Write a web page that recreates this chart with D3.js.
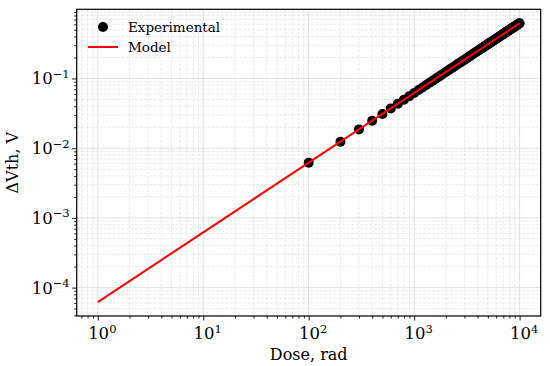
<!DOCTYPE html>
<html>
<head>
<meta charset="utf-8">
<script src="https://cdn.jsdelivr.net/npm/d3@7"></script>
<style>
  body { margin: 0; background: #fff; }
  svg { display: block; font-family: "DejaVu Serif", serif; }
</style>
</head>
<body>
<div id="chart"></div>
<script>
const WIDTH = 550;
const HEIGHT = 366;
const margin = {top: 9.3, right: 9.3, bottom: 50, left: 76.7};

// experimental points
const doses = [
  100, 200, 300, 400, 500, 600, 700, 800, 900, 1000,
  1100, 1200, 1300, 1400, 1500, 1600, 1700, 1800, 1900, 2000,
  2100, 2200, 2300, 2400, 2500, 2600, 2700, 2800, 2900, 3000,
  3100, 3200, 3300, 3400, 3500, 3600, 3700, 3800, 3900, 4000,
  4100, 4200, 4300, 4400, 4500, 4600, 4700, 4800, 4900, 5000,
  5100, 5200, 5300, 5400, 5500, 5600, 5700, 5800, 5900, 6000,
  6100, 6200, 6300, 6400, 6500, 6600, 6700, 6800, 6900, 7000,
  7100, 7200, 7300, 7400, 7500, 7600, 7700, 7800, 7900, 8000,
  8100, 8200, 8300, 8400, 8500, 8600, 8700, 8800, 8900, 9000,
  9100, 9200, 9300, 9400, 9500, 9600, 9700, 9800, 9900, 10000
];
const dVth = [
  0.0062, 0.0124, 0.0186, 0.0248, 0.0310, 0.0372, 0.0434, 0.0496, 0.0558, 0.0620,
  0.0682, 0.0744, 0.0806, 0.0868, 0.0930, 0.0992, 0.1054, 0.1116, 0.1178, 0.1240,
  0.1302, 0.1364, 0.1426, 0.1488, 0.1550, 0.1612, 0.1674, 0.1736, 0.1798, 0.1860,
  0.1922, 0.1984, 0.2046, 0.2108, 0.2170, 0.2232, 0.2294, 0.2356, 0.2418, 0.2480,
  0.2542, 0.2604, 0.2666, 0.2728, 0.2790, 0.2852, 0.2914, 0.2976, 0.3038, 0.3100,
  0.3162, 0.3224, 0.3286, 0.3348, 0.3410, 0.3472, 0.3534, 0.3596, 0.3658, 0.3720,
  0.3782, 0.3844, 0.3906, 0.3968, 0.4030, 0.4092, 0.4154, 0.4216, 0.4278, 0.4340,
  0.4402, 0.4464, 0.4526, 0.4588, 0.4650, 0.4712, 0.4774, 0.4836, 0.4898, 0.4960,
  0.5022, 0.5084, 0.5146, 0.5208, 0.5270, 0.5332, 0.5394, 0.5456, 0.5518, 0.5580,
  0.5642, 0.5704, 0.5766, 0.5828, 0.5890, 0.5952, 0.6014, 0.6076, 0.6138, 0.6200
];

// model line
const modelDoses = [1, 10, 100, 1000, 10000];
const modelVth = [0.000062, 0.00062, 0.0062, 0.062, 0.62];

const xTicks = [1, 10, 100, 1000, 10000];
const xTickExp = ["0", "1", "2", "3", "4"];
const yTicks = [0.0001, 0.001, 0.01, 0.1];
const yTickExp = ["\u22124", "\u22123", "\u22122", "\u22121"];

const svg = d3.select("#chart").append("svg")
    .attr("width", WIDTH)
    .attr("height", HEIGHT);

// log padding like matplotlib (5%)
function padLog(vals) {
    const e = d3.extent(vals).map(Math.log10);
    const p = (e[1] - e[0]) * 0.05;
    return [Math.pow(10, e[0] - p), Math.pow(10, e[1] + p)];
}

const x = d3.scaleLog()
    .domain(padLog(modelDoses.concat(doses)))
    .range([margin.left, WIDTH - margin.right]);
const y = d3.scaleLog()
    .domain(padLog(modelVth.concat(dVth)))
    .range([HEIGHT - margin.bottom, margin.top]);

const minorTicks = (sc) => sc.ticks().filter(t => {
    const m = t / Math.pow(10, Math.floor(Math.log10(t) + 1e-9));
    return Math.abs(m - 1) > 1e-6;
});

// grid
const grid = svg.append("g");
grid.selectAll("line.xminor").data(minorTicks(x)).enter().append("line")
    .attr("x1", d => x(d)).attr("x2", d => x(d))
    .attr("y1", margin.top).attr("y2", HEIGHT - margin.bottom)
    .attr("stroke", "#e3e3e3").attr("stroke-width", 0.8)
    .attr("stroke-dasharray", "3,1.5");
grid.selectAll("line.yminor").data(minorTicks(y)).enter().append("line")
    .attr("y1", d => y(d)).attr("y2", d => y(d))
    .attr("x1", margin.left).attr("x2", WIDTH - margin.right)
    .attr("stroke", "#e3e3e3").attr("stroke-width", 0.8)
    .attr("stroke-dasharray", "3,1.5");
grid.selectAll("line.xmajor").data(xTicks).enter().append("line")
    .attr("x1", d => x(d)).attr("x2", d => x(d))
    .attr("y1", margin.top).attr("y2", HEIGHT - margin.bottom)
    .attr("stroke", "#d8d8d8").attr("stroke-width", 0.8);
grid.selectAll("line.ymajor").data(yTicks).enter().append("line")
    .attr("y1", d => y(d)).attr("y2", d => y(d))
    .attr("x1", margin.left).attr("x2", WIDTH - margin.right)
    .attr("stroke", "#d8d8d8").attr("stroke-width", 0.8);

// data
const pts = doses.map((d, i) => [d, dVth[i]]);
svg.append("g").selectAll("circle").data(pts).enter().append("circle")
    .attr("cx", d => x(d[0]))
    .attr("cy", d => y(d[1]))
    .attr("r", 5)
    .attr("fill", "#000");

const line = d3.line().x(d => x(d[0])).y(d => y(d[1]));
svg.append("path")
    .datum(modelDoses.map((d, i) => [d, modelVth[i]]))
    .attr("d", line)
    .attr("fill", "none")
    .attr("stroke", "#ff0000")
    .attr("stroke-width", 2);

// axes ticks
const xAxisG = svg.append("g").attr("transform", `translate(0,${HEIGHT - margin.bottom})`);
xAxisG.call(d3.axisBottom(x).tickValues(minorTicks(x)).tickSize(2.5).tickFormat(""));
xAxisG.call(g => g.append("g").call(d3.axisBottom(x).tickValues(xTicks).tickSize(4.5).tickFormat("")));
const yAxisG = svg.append("g").attr("transform", `translate(${margin.left},0)`);
yAxisG.call(d3.axisLeft(y).tickValues(minorTicks(y)).tickSize(2.5).tickFormat(""));
yAxisG.call(g => g.append("g").call(d3.axisLeft(y).tickValues(yTicks).tickSize(4.5).tickFormat("")));
svg.selectAll(".domain").remove();
svg.selectAll(".tick line").attr("stroke", "#000").attr("stroke-width", 0.9);

// tick labels
const xl = svg.append("g").selectAll("text").data(xTicks).enter().append("text")
    .attr("x", (d, i) => x(d) + 4.5)
    .attr("y", HEIGHT - margin.bottom + 23)
    .attr("text-anchor", "middle")
    .attr("font-size", 16.5)
    .attr("fill", "#000");
xl.append("tspan").text("10");
xl.append("tspan").attr("dy", -6.5).attr("font-size", 11.5).text((d, i) => xTickExp[i]);

const yl = svg.append("g").selectAll("text").data(yTicks).enter().append("text")
    .attr("x", margin.left - 7)
    .attr("y", d => y(d) + 6)
    .attr("text-anchor", "end")
    .attr("font-size", 16.5)
    .attr("fill", "#000");
yl.append("tspan").text("10");
yl.append("tspan").attr("dy", -6.5).attr("font-size", 11.5).text((d, i) => yTickExp[i]);

// frame
svg.append("rect")
    .attr("x", margin.left).attr("y", margin.top)
    .attr("width", WIDTH - margin.left - margin.right)
    .attr("height", HEIGHT - margin.top - margin.bottom)
    .attr("fill", "none").attr("stroke", "#000").attr("stroke-width", 1.2);

// axis labels
svg.append("text")
    .attr("x", (margin.left + WIDTH - margin.right) / 2)
    .attr("y", HEIGHT - 6)
    .attr("text-anchor", "middle")
    .attr("font-size", 16)
    .text("Dose, rad");
svg.append("text")
    .attr("transform", `translate(18,${(margin.top + HEIGHT - margin.bottom) / 2}) rotate(-90)`)
    .attr("text-anchor", "middle")
    .attr("font-size", 16)
    .text("\u0394Vth, V");

// legend
const lg = svg.append("g");
lg.append("circle").attr("cx", 103).attr("cy", 27).attr("r", 5).attr("fill", "#000");
lg.append("line").attr("x1", 88).attr("x2", 118).attr("y1", 47).attr("y2", 47)
    .attr("stroke", "#ff0000").attr("stroke-width", 2);
lg.append("text").attr("x", 128).attr("y", 32).attr("font-size", 13.5).text("Experimental");
lg.append("text").attr("x", 128).attr("y", 52).attr("font-size", 13.5).text("Model");
</script>
</body>
</html>
